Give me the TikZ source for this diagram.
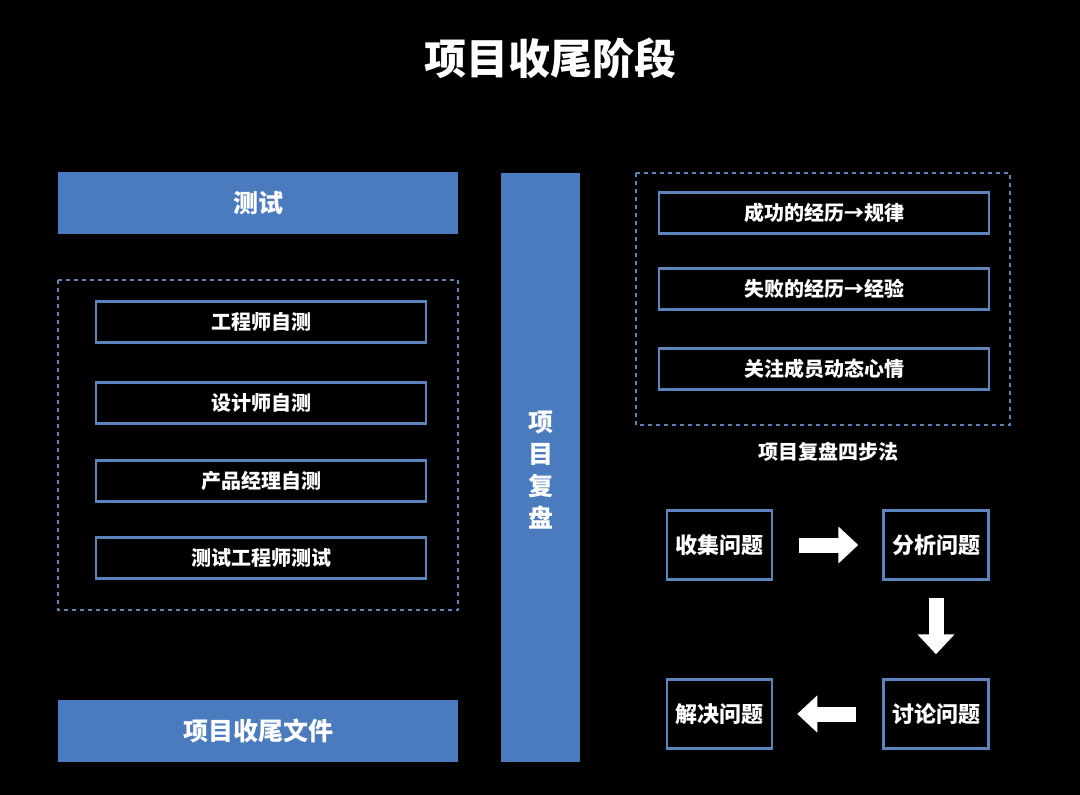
\documentclass[tikz,border=0pt]{standalone}
\usepackage{fontspec}
\setmainfont{Noto Sans CJK SC}
\usetikzlibrary{arrows.meta}
\definecolor{bl}{HTML}{4A7BBF}
\definecolor{bd}{HTML}{5B84BC}
\tikzset{
 bar/.style={fill=bl,draw=none,text=white,font=\bfseries\fontsize{25}{28}\selectfont},
 item/.style={draw=bd,line width=2.5pt,fill=black,text=white,font=\bfseries\fontsize{20}{22}\selectfont},
 dbox/.style={draw=bd,dashed,line width=2pt,dash pattern=on 4pt off 4pt},
 barr/.style={white,line width=15pt,-{Triangle[length=20pt,width=36pt]}},
}
\begin{document}
\begin{tikzpicture}[x=1pt,y=-1pt]
\fill[black] (0,0) rectangle (1080,795);
\useasboundingbox (0,0) rectangle (1080,795);
\node[text=white,font=\bfseries\fontsize{42}{46}\selectfont] (title) at (550,58) {项目收尾阶段};
% left
\node[bar,minimum width=400pt,minimum height=62pt] (test) at (258,203) {测试};
\draw[dbox] (58,280) rectangle (458,610);
\node[item,minimum width=330pt,minimum height=41pt] (a1) at (261,322) {工程师自测};
\node[item,minimum width=330pt,minimum height=41pt] (a2) at (261,403) {设计师自测};
\node[item,minimum width=330pt,minimum height=41pt] (a3) at (261,481) {产品经理自测};
\node[item,minimum width=330pt,minimum height=41pt] (a4) at (261,558) {测试工程师测试};
\node[bar,minimum width=400pt,minimum height=62pt] (file) at (258,731) {项目收尾文件};
% middle
\node[bar,minimum width=79pt,minimum height=589pt] (mid) at (540.5,467.5) {};
\node[text=white,font=\bfseries\fontsize{25}{28}\selectfont,align=center] (midt) at (540.5,470) {项\\[4pt]目\\[4pt]复\\[4pt]盘};
% right
\draw[dbox] (636,173) rectangle (1010,425);
\node[item,minimum width=330pt,minimum height=41pt] (b1) at (824,213) {成功的经历→规律};
\node[item,minimum width=330pt,minimum height=41pt] (b2) at (824,289) {失败的经历→经验};
\node[item,minimum width=330pt,minimum height=41pt] (b3) at (824,369) {关注成员动态心情};
\node[text=white,font=\bfseries\fontsize{20}{22}\selectfont] (cap) at (828,452) {项目复盘四步法};
\tikzset{sq/.style={item,font=\bfseries\fontsize{22}{24}\selectfont,minimum width=105pt,minimum height=69pt,inner sep=0pt}}
\node[sq] (c1) at (719.5,545) {收集问题};
\node[sq] (c2) at (936,545) {分析问题};
\node[sq] (c3) at (719.5,714) {解决问题};
\node[sq] (c4) at (936,714) {讨论问题};
\draw[barr] ([xshift=26pt]c1.east) -- ([xshift=-24pt]c2.west);
\draw[barr] ([yshift=-17pt]c2.south) -- ([yshift=24pt]c4.north);
\draw[barr] ([xshift=-26pt]c4.west) -- ([xshift=24pt]c3.east);
\end{tikzpicture}
\end{document}
